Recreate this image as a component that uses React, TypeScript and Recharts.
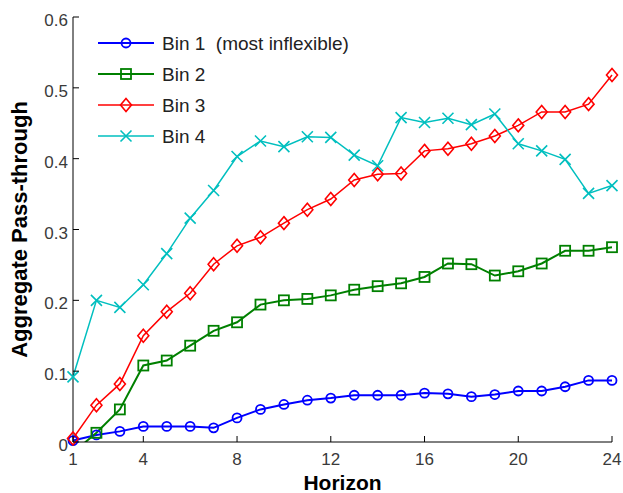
import React from 'react'
import { LineChart, Line, XAxis, YAxis, Legend } from 'recharts'

const HORIZON = [1, 2, 3, 4, 5, 6, 7, 8, 9, 10, 11, 12, 13, 14, 15, 16, 17, 18, 19, 20, 21, 22, 23, 24]
const BIN1 = [0.002, 0.010, 0.015, 0.022, 0.022, 0.022, 0.020, 0.034, 0.046, 0.053, 0.059, 0.062, 0.066, 0.066, 0.066, 0.069, 0.068, 0.064, 0.067, 0.072, 0.072, 0.078, 0.087, 0.087]
const BIN2 = [-0.015, 0.013, 0.046, 0.108, 0.115, 0.136, 0.157, 0.169, 0.194, 0.200, 0.202, 0.207, 0.215, 0.220, 0.224, 0.233, 0.252, 0.251, 0.235, 0.241, 0.252, 0.270, 0.270, 0.275]
const BIN3 = [0.005, 0.052, 0.082, 0.150, 0.184, 0.210, 0.251, 0.277, 0.289, 0.309, 0.328, 0.343, 0.370, 0.378, 0.379, 0.411, 0.414, 0.421, 0.432, 0.447, 0.466, 0.466, 0.477, 0.518]
const BIN4 = [0.092, 0.200, 0.190, 0.222, 0.266, 0.316, 0.355, 0.403, 0.425, 0.417, 0.431, 0.430, 0.405, 0.390, 0.458, 0.451, 0.457, 0.448, 0.463, 0.421, 0.411, 0.399, 0.351, 0.362]

const X_TICKS = [1, 4, 8, 12, 16, 20, 24]
const Y_TICKS = [0, 0.1, 0.2, 0.3, 0.4, 0.5, 0.6]
const Y_TICK_LABELS = ['0', '0.1', '0.2', '0.3', '0.4', '0.5', '0.6']

const SERIES = [
  { key: 'bin1', name: 'Bin 1', note: '(most inflexible)', color: '#0000FF', marker: 'circle', width: 2 },
  { key: 'bin2', name: 'Bin 2', note: '', color: '#008000', marker: 'square', width: 2 },
  { key: 'bin3', name: 'Bin 3', note: '', color: '#FF0000', marker: 'diamond', width: 1.5 },
  { key: 'bin4', name: 'Bin 4', note: '', color: '#00BFBF', marker: 'cross', width: 1.5 }
]

const data = HORIZON.map((h, i) => ({
  h,
  bin1: BIN1[i],
  bin2: BIN2[i],
  bin3: BIN3[i],
  bin4: BIN4[i]
}))

const FONT = '"Liberation Sans", Arial, sans-serif'
const TICK_LEN = 6

const drawMarker = (marker: string, cx: number, cy: number, color: string, key?: any) => {
  if (marker === 'circle') {
    return <circle key={key} cx={cx} cy={cy} r={4.5} fill="none" stroke={color} strokeWidth={1.8} />
  }
  if (marker === 'square') {
    return <rect key={key} x={cx - 5} y={cy - 5} width={10} height={10} fill="none" stroke={color} strokeWidth={1.8} />
  }
  if (marker === 'diamond') {
    return (
      <path
        key={key}
        d={`M${cx},${cy - 6.5} L${cx + 5.5},${cy} L${cx},${cy + 6.5} L${cx - 5.5},${cy} Z`}
        fill="none"
        stroke={color}
        strokeWidth={1.6}
      />
    )
  }
  return (
    <path
      key={key}
      d={`M${cx - 5.5},${cy - 5.5} L${cx + 5.5},${cy + 5.5} M${cx - 5.5},${cy + 5.5} L${cx + 5.5},${cy - 5.5}`}
      stroke={color}
      strokeWidth={1.6}
    />
  )
}

const makeDot = (marker: string, color: string) => (props: any) => {
  const { cx, cy, index } = props
  if (cx == null || cy == null || Number.isNaN(cy)) return <g key={`d-${index}`} />
  return drawMarker(marker, cx, cy, color, `d-${index}`)
}

// tick renderers: labels outside, tick marks pointing into the plot
const BottomTick = (props: any) => {
  const { x, y, payload } = props
  return (
    <g>
      <line x1={x} y1={y} x2={x} y2={y - TICK_LEN} stroke="#000" />
      <text x={x} y={y + 22.5} textAnchor="middle" fontSize={17} fill="#3a3a3a" fontFamily={FONT}>
        {payload.value}
      </text>
    </g>
  )
}

const TopTick = (props: any) => {
  const { x, y } = props
  return <line x1={x} y1={y} x2={x} y2={y + TICK_LEN} stroke="#000" />
}

const LeftTick = (props: any) => {
  const { x, y, payload, index } = props
  return (
    <g>
      <line x1={x} y1={y} x2={x + TICK_LEN} y2={y} stroke="#000" />
      <text x={x - 5} y={y + 9} textAnchor="end" fontSize={17} fill="#3a3a3a" fontFamily={FONT}>
        {Y_TICK_LABELS[index] ?? payload.value}
      </text>
    </g>
  )
}

const RightTick = (props: any) => {
  const { x, y } = props
  return <line x1={x} y1={y} x2={x - TICK_LEN} y2={y} stroke="#000" />
}

const XLabel = ({ viewBox }: any) => (
  <text
    x={viewBox.x + viewBox.width / 2}
    y={viewBox.y + 47.5}
    textAnchor="middle"
    fontSize={21}
    fontWeight="bold"
    fill="#000"
    fontFamily={FONT}
  >
    Horizon
  </text>
)

const YLabel = ({ viewBox }: any) => {
  const x = viewBox.x + 27
  const y = viewBox.y + viewBox.height / 2
  return (
    <text
      x={x}
      y={y}
      transform={`rotate(-90 ${x} ${y})`}
      textAnchor="middle"
      fontSize={22}
      fontWeight="bold"
      fill="#000"
      fontFamily={FONT}
    >
      Aggregate Pass-through
    </text>
  )
}

const LegendBox = () => (
  <svg width={300} height={130} style={{ display: 'block' }}>
    {SERIES.map((s, i) => {
      const cy = 15 + i * 31
      return (
        <g key={s.key}>
          <line x1={8} y1={cy} x2={64} y2={cy} stroke={s.color} strokeWidth={s.width} />
          {drawMarker(s.marker, 36, cy, s.color)}
          <text x={72} y={cy + 7} fontSize={19} fill="#222" fontFamily={FONT} style={{ whiteSpace: 'pre' }}>
            {s.note ? `${s.name}  ${s.note}` : s.name}
          </text>
        </g>
      )
    })}
  </svg>
)

const App: React.FC = () => {
  // green first point is below zero: it runs on a clipped axis, markers on the normal one
  const bin2Marks = (d: any) => (d.bin2 >= 0 ? d.bin2 : null)

  return (
    <div style={{ position: 'absolute', left: 0, top: 0, width: 623, height: 493, background: '#fff' }}>
      <LineChart width={623} height={493} data={data} margin={{ top: 17, right: 11, bottom: 0, left: 0 }}>
        <XAxis
          dataKey="h"
          type="number"
          domain={[1, 24]}
          ticks={X_TICKS}
          interval={0}
          height={51}
          stroke="#000"
          tickLine={false}
          tickSize={0}
          tickMargin={0}
          tick={<BottomTick />}
          label={<XLabel />}
        />
        <XAxis
          xAxisId="top"
          dataKey="h"
          type="number"
          orientation="top"
          domain={[1, 24]}
          ticks={X_TICKS}
          interval={0}
          height={0}
          stroke="#000"
          tickLine={false}
          tickSize={0}
          tickMargin={0}
          tick={<TopTick />}
        />
        <YAxis
          type="number"
          domain={[0, 0.6]}
          ticks={Y_TICKS}
          interval={0}
          width={73}
          stroke="#000"
          tickLine={false}
          tickSize={0}
          tickMargin={0}
          tick={<LeftTick />}
          label={<YLabel />}
        />
        <YAxis
          yAxisId="right"
          type="number"
          orientation="right"
          domain={[0, 0.6]}
          ticks={Y_TICKS}
          interval={0}
          width={0}
          stroke="#000"
          tickLine={false}
          tickSize={0}
          tickMargin={0}
          tick={<RightTick />}
        />
        <YAxis yAxisId="clip" type="number" domain={[0, 0.6]} allowDataOverflow hide />

        <Legend
          layout="vertical"
          align="center"
          verticalAlign="middle"
          wrapperStyle={{ top: 28, left: 90, width: 300, height: 130 }}
          content={<LegendBox />}
        />

        <Line
          dataKey="bin1"
          stroke={SERIES[0].color}
          strokeWidth={SERIES[0].width}
          dot={makeDot('circle', SERIES[0].color)}
          activeDot={false}
          isAnimationActive={false}
        />
        <Line
          dataKey="bin2"
          yAxisId="clip"
          stroke={SERIES[1].color}
          strokeWidth={SERIES[1].width}
          dot={false}
          activeDot={false}
          legendType="none"
          isAnimationActive={false}
        />
        <Line
          dataKey={bin2Marks}
          stroke="none"
          dot={makeDot('square', SERIES[1].color)}
          activeDot={false}
          legendType="none"
          isAnimationActive={false}
        />
        <Line
          dataKey="bin3"
          stroke={SERIES[2].color}
          strokeWidth={SERIES[2].width}
          dot={makeDot('diamond', SERIES[2].color)}
          activeDot={false}
          isAnimationActive={false}
        />
        <Line
          dataKey="bin4"
          stroke={SERIES[3].color}
          strokeWidth={SERIES[3].width}
          dot={makeDot('cross', SERIES[3].color)}
          activeDot={false}
          isAnimationActive={false}
        />
      </LineChart>
    </div>
  )
}

export default App
